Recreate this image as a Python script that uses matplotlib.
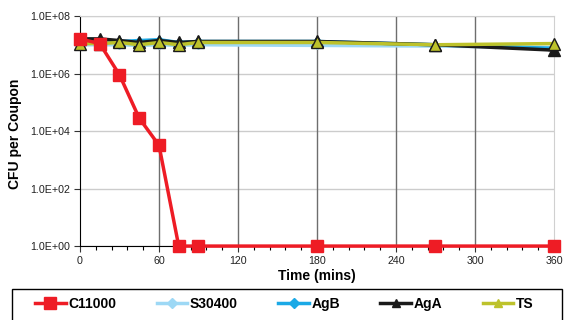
import matplotlib
matplotlib.use('Agg')
from matplotlib import pyplot as plt
from matplotlib.ticker import FixedLocator, MultipleLocator, NullLocator
from matplotlib.lines import Line2D
from matplotlib.patches import Rectangle

plt.rcParams['font.family'] = ['Liberation Sans', 'DejaVu Sans']

# data
time_min = [0, 15, 30, 45, 60, 75, 90, 180, 270, 360]
c11000 = [1.6e7, 1.1e7, 9.0e5, 2.8e4, 3.2e3, 1.0, 1.0, 1.0, 1.0, 1.0]
s30400 = [1.0e7, 1.0e7, 1.0e7, 9.5e6, 1.0e7, 9.5e6, 1.0e7, 9.5e6, 9.0e6, 8.0e6]
agb = [1.6e7, 1.5e7, 1.3e7, 1.4e7, 1.5e7, 1.2e7, 1.3e7, 1.3e7, 1.0e7, 7.5e6]
aga = [1.6e7, 1.6e7, 1.4e7, 1.2e7, 1.4e7, 1.2e7, 1.3e7, 1.3e7, 1.0e7, 6.5e6]
ts = [1.1e7, 1.1e7, 1.2e7, 1.0e7, 1.2e7, 1.0e7, 1.2e7, 1.2e7, 1.0e7, 1.1e7]
x_ticks = [0, 60, 120, 180, 240, 300, 360]
y_ticks = [1e0, 1e2, 1e4, 1e6, 1e8]
y_labels = ['1.0E+00', '1.0E+02', '1.0E+04', '1.0E+06', '1.0E+08']

fig = plt.figure(figsize=(5.66, 3.2), dpi=100)
ax = fig.add_axes([0.1413, 0.231, 0.8375, 0.719])

ax.plot(time_min, s30400, color='#9DD8F5', lw=2.5, marker='D', ms=4, zorder=3, clip_on=False)
ax.plot(time_min, agb, color='#1BA9E6', lw=2.5, marker='D', ms=4, zorder=4, clip_on=False)
ax.plot(time_min, aga, color='#1a1a1a', lw=2.5, marker='^', ms=9, zorder=5, clip_on=False)
ax.plot(time_min, ts, color='#BDC22B', lw=2.5, marker='^', ms=8, mec='#1a1a1a', mew=1.0, zorder=6, clip_on=False)
ax.plot(time_min, c11000, color='#EE1C25', lw=2.5, marker='s', ms=8, zorder=7, clip_on=False)

ax.set_yscale('log')
ax.set_xlim(0, 360)
ax.set_ylim(1, 1e8)
ax.xaxis.set_major_locator(FixedLocator(x_ticks))
ax.xaxis.set_minor_locator(MultipleLocator(12))
ax.yaxis.set_major_locator(FixedLocator(y_ticks))
ax.yaxis.set_minor_locator(NullLocator())
ax.set_yticklabels(y_labels)
ax.tick_params(axis='both', labelsize=7.7, colors='#333333', labelcolor='#222222', length=4, width=0.8, pad=3)
ax.tick_params(axis='x', which='minor', length=3, width=0.8)

ax.grid(axis='y', color='#cccccc', lw=1)
for t in x_ticks[1:-1]:
    ax.axvline(t, color='#6e6e6e', lw=1, zorder=1)
ax.set_axisbelow(True)

ax.spines['left'].set_color('black')
ax.spines['bottom'].set_color('black')
ax.spines['top'].set_color('#d0d0d0')
ax.spines['right'].set_color('#d0d0d0')

ax.set_xlabel('Time (mins)', fontsize=10, fontweight='bold', labelpad=2)
ax.set_ylabel('CFU per Coupon', fontsize=10, fontweight='bold')
ax.yaxis.set_label_coords(-0.122, 0.49)

# legend, with its own box under the plot
legend_names = ['C11000', 'S30400', 'AgB', 'AgA', 'TS']
handles = [Line2D([0], [0], color='#EE1C25', lw=2.5, marker='s', ms=8),
           Line2D([0], [0], color='#9DD8F5', lw=2.5, marker='D', ms=5),
           Line2D([0], [0], color='#1BA9E6', lw=2.5, marker='D', ms=5),
           Line2D([0], [0], color='#1a1a1a', lw=2.5, marker='^', ms=6),
           Line2D([0], [0], color='#BDC22B', lw=2.5, marker='^', ms=6)]
fig.legend(handles, legend_names, loc='center left', bbox_to_anchor=(35 / 566, 1 - 304 / 320),
           ncol=5, frameon=False, prop={'weight': 'bold', 'size': 10},
           handlelength=2.2, handletextpad=0.2, columnspacing=2.9, borderpad=0, borderaxespad=0)
fig.patches.append(Rectangle((12 / 566, -0.02), 550 / 566, (320 - 289) / 320 + 0.02,
                             transform=fig.transFigure, fill=False, edgecolor='black', lw=1))

fig.savefig('out.png', dpi=100)
